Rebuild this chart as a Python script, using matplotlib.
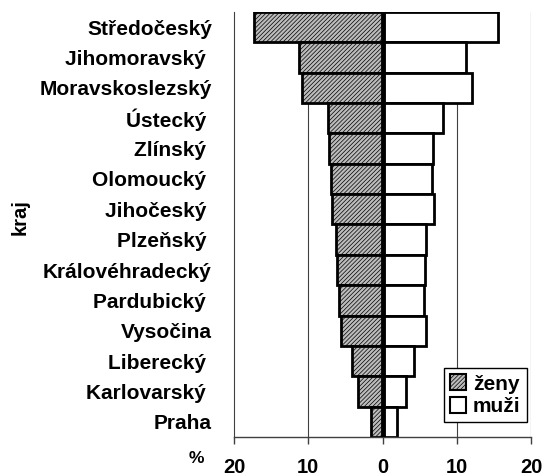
import matplotlib.pyplot as plt
from matplotlib.patches import Patch
import numpy as np

plt.rcParams['font.family'] = ['Liberation Sans', 'DejaVu Sans']
plt.rcParams['font.weight'] = 'bold'
plt.rcParams['hatch.linewidth'] = 0.5

# kraje od shora dolu
kraje = ['Středočeský', 'Jihomoravský ', 'Moravskoslezský', 'Ústecký ', 'Zlínský ',
         'Olomoucký ', 'Jihočeský ', 'Plzeňský ', 'Královéhradecký', 'Pardubický ',
         'Vysočina', 'Liberecký ', 'Karlovarský ', 'Praha']
zeny = [17.3, 11.3, 10.9, 7.4, 7.2, 6.9, 6.8, 6.2, 6.1, 5.8, 5.6, 4.1, 3.3, 1.5]
muzi = [15.5, 11.2, 12.1, 8.1, 6.8, 6.7, 6.9, 5.8, 5.7, 5.6, 5.8, 4.2, 3.2, 1.9]

fig = plt.figure(figsize=(5.45, 4.76), dpi=100)
ax = fig.add_axes([0.4294, 0.0819, 0.545, 0.893])

y = np.arange(len(kraje))
ax.barh(y, [-v for v in zeny], height=1.0, color='#bcbcbc', edgecolor='black',
        hatch='////////', linewidth=2, zorder=2)
ax.barh(y, muzi, height=1.0, color='white', edgecolor='black', linewidth=2, zorder=2)

# stredova osa
ax.axvline(0, color='black', linewidth=3.5, zorder=4)

ax.set_xlim(-20, 20)
ax.set_ylim(len(kraje) - 0.5, -0.5)

ax.set_xticks([-20, -10, 0, 10, 20])
ax.set_xticklabels(['20', '10', '0', '10', '20'], fontsize=14.5)
ax.tick_params(axis='x', direction='out', length=5, width=1, pad=10, color='#404040')
ax.set_yticks(y)
ax.set_yticklabels(kraje, fontsize=15)
ax.tick_params(axis='y', length=0, pad=16)

for gx in [-10, 10, 20]:
    ax.axvline(gx, color='#404040', linewidth=0.8, zorder=1)

ax.spines['top'].set_visible(False)
ax.spines['right'].set_visible(False)
ax.spines['left'].set_color('#404040')
ax.spines['left'].set_linewidth(0.8)
ax.spines['bottom'].set_color('#404040')
ax.spines['bottom'].set_linewidth(1)

handles = [Patch(facecolor='#bcbcbc', edgecolor='black', hatch='////////', linewidth=1.5),
           Patch(facecolor='white', edgecolor='black', linewidth=1.5)]
leg = ax.legend(handles, ['ženy', 'muži'], loc='lower right', bbox_to_anchor=(0.985, 0.035),
                fontsize=15, fancybox=False, framealpha=1, edgecolor='black',
                handlelength=0.8, handleheight=0.8, handletextpad=0.3,
                borderpad=0.3, labelspacing=0.15, borderaxespad=0)
leg.get_frame().set_linewidth(1)
leg.set_zorder(5)

fig.text(0.037, 0.544, 'kraj', rotation=90, ha='center', va='center', fontsize=14.5)
fig.text(0.36, 0.036, '%', ha='center', va='center', fontsize=12.5)

fig.savefig('out.png', dpi=100)
